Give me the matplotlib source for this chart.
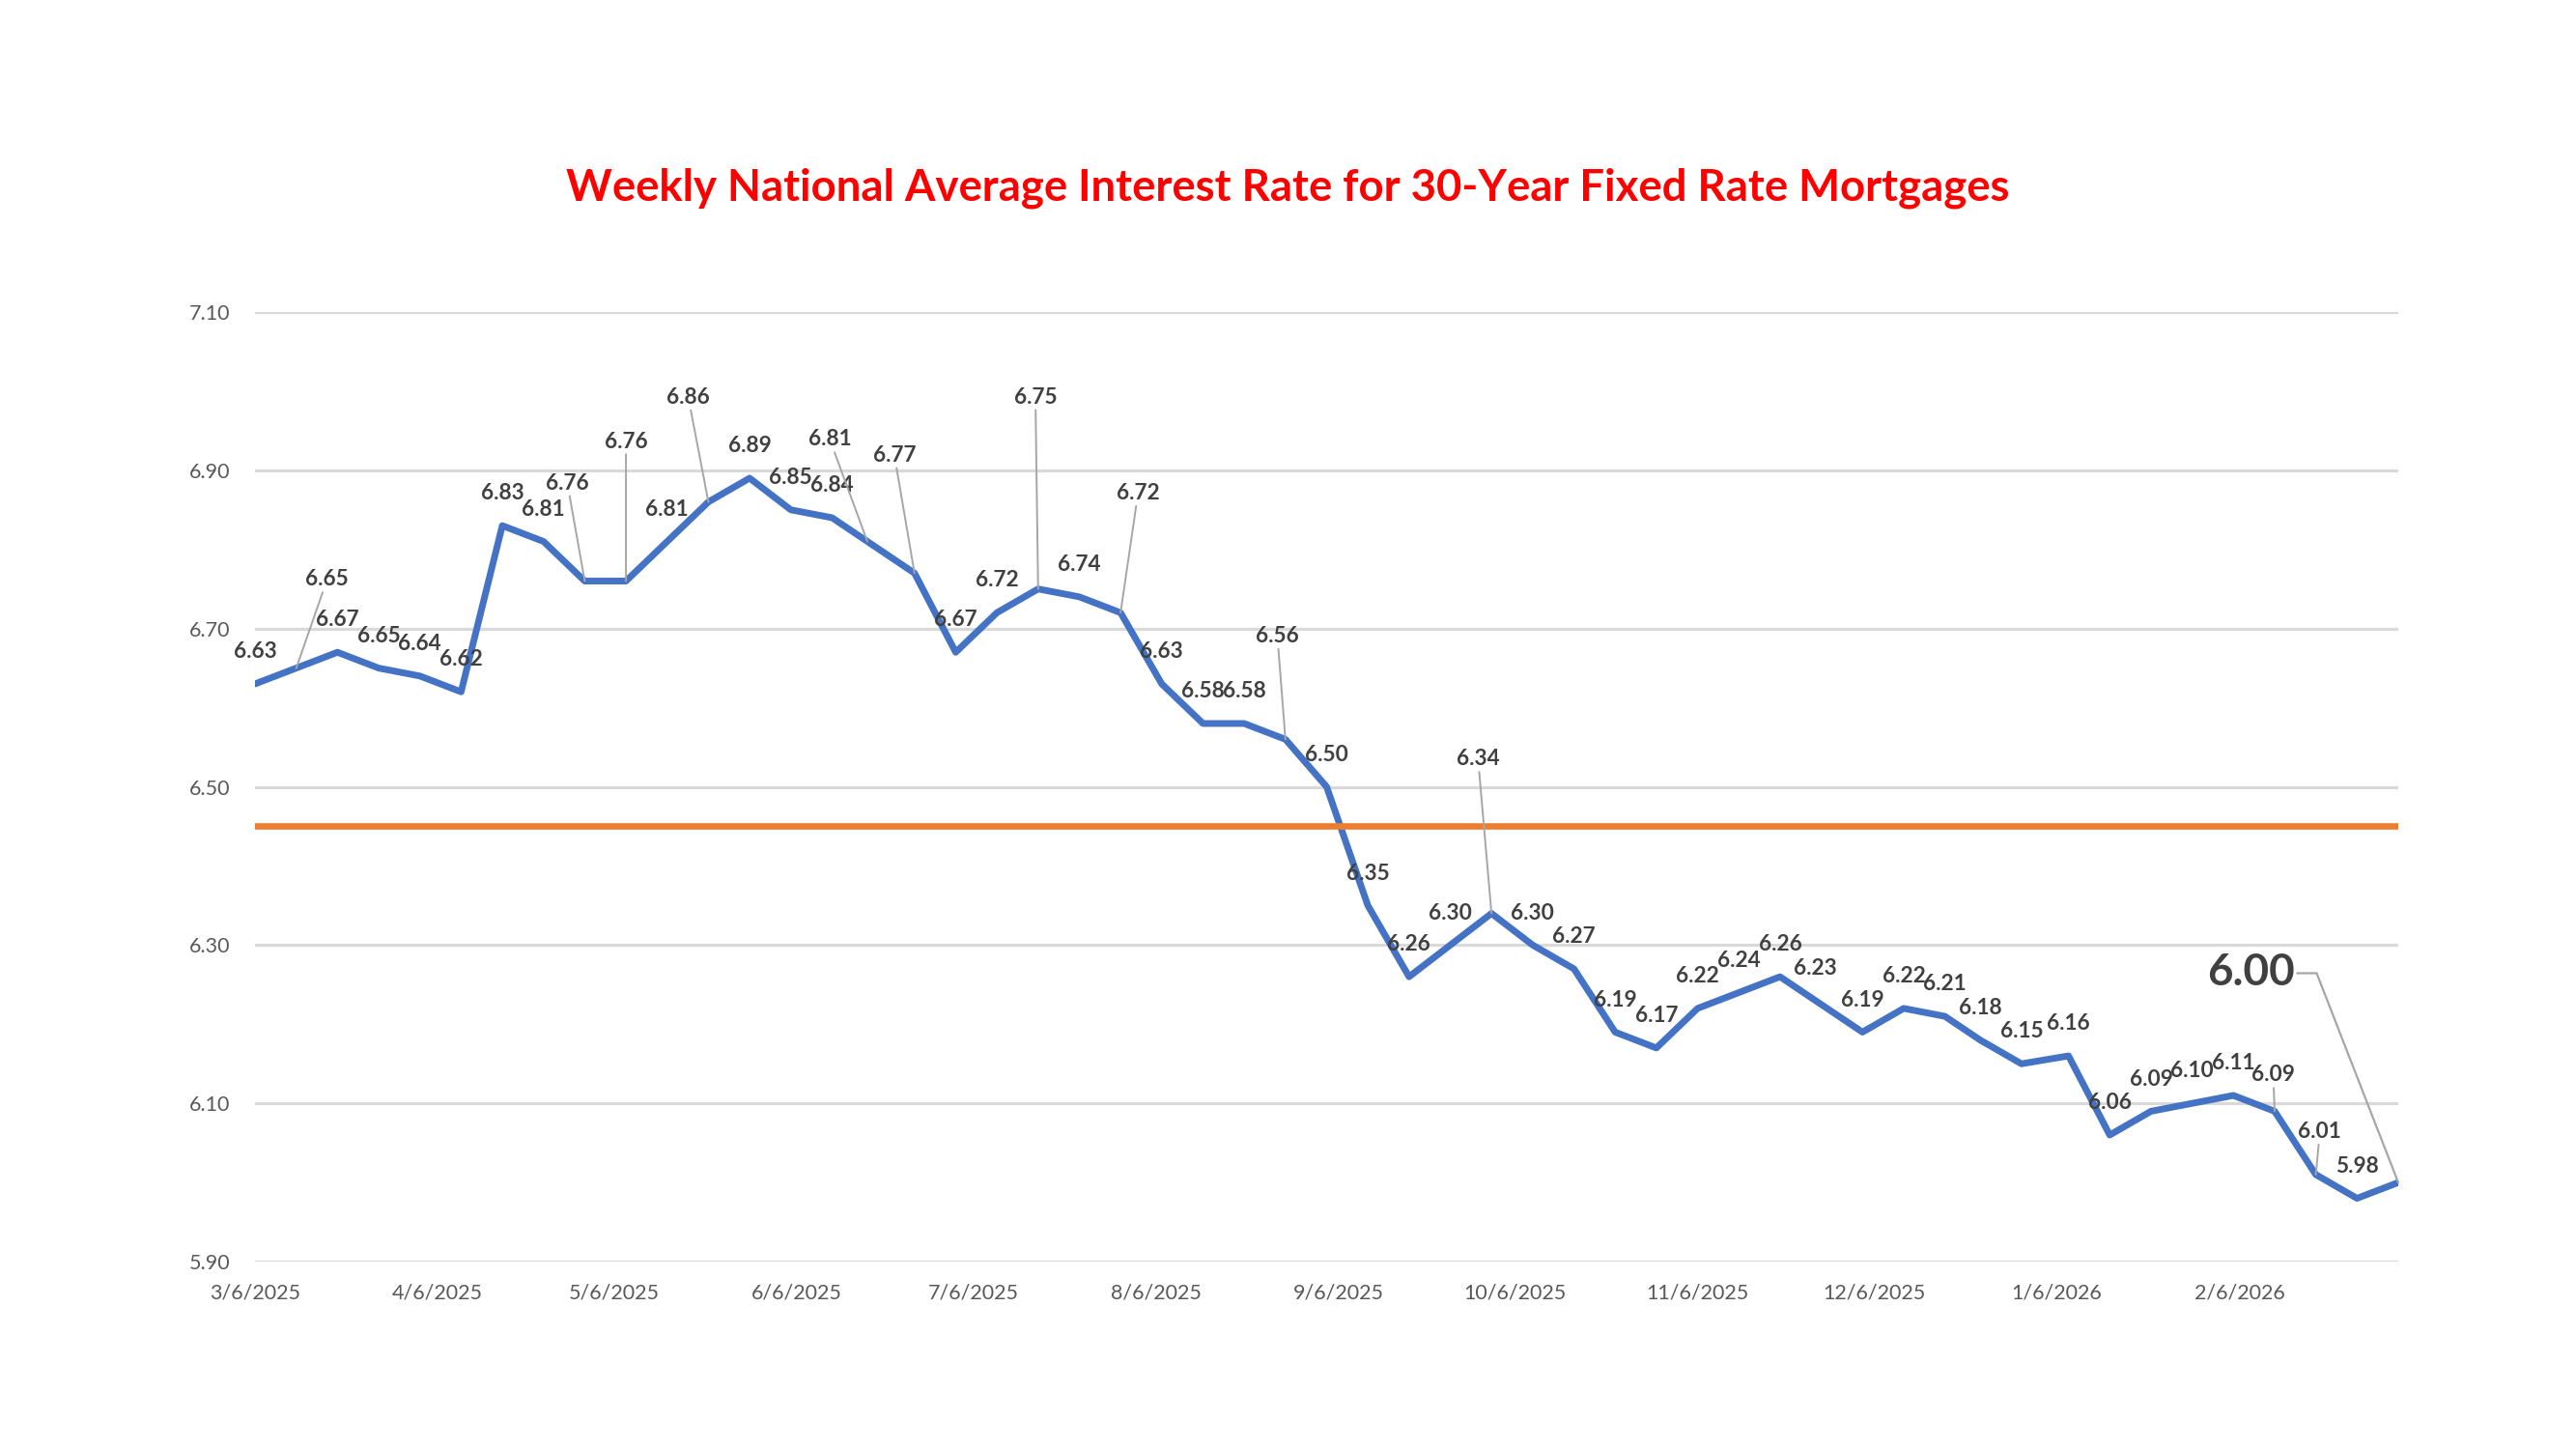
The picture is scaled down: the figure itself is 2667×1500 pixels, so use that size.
import matplotlib
matplotlib.use("Agg")
import matplotlib.pyplot as plt
import pandas as pd

plt.rcParams['font.family'] = ['Lato', 'DejaVu Sans']

# weekly 30-year fixed rate (Freddie Mac PMMS style), 3/6/2025 - 3/5/2026
dates = ['2025-03-06', '2025-03-13', '2025-03-20', '2025-03-27', '2025-04-03', '2025-04-10',
         '2025-04-17', '2025-04-24', '2025-05-01', '2025-05-08', '2025-05-15', '2025-05-22',
         '2025-05-29', '2025-06-05', '2025-06-12', '2025-06-18', '2025-06-26', '2025-07-03',
         '2025-07-10', '2025-07-17', '2025-07-24', '2025-07-31', '2025-08-07', '2025-08-14',
         '2025-08-21', '2025-08-28', '2025-09-04', '2025-09-11', '2025-09-18', '2025-09-25',
         '2025-10-02', '2025-10-09', '2025-10-16', '2025-10-23', '2025-10-30', '2025-11-06',
         '2025-11-13', '2025-11-20', '2025-11-26', '2025-12-04', '2025-12-11', '2025-12-18',
         '2025-12-24', '2025-12-31', '2026-01-08', '2026-01-15', '2026-01-22', '2026-01-29',
         '2026-02-05', '2026-02-12', '2026-02-19', '2026-02-26', '2026-03-05']
rates = [6.63, 6.65, 6.67, 6.65, 6.64, 6.62, 6.83, 6.81, 6.76, 6.76, 6.81, 6.86,
         6.89, 6.85, 6.84, 6.81, 6.77, 6.67, 6.72, 6.75, 6.74, 6.72, 6.63, 6.58,
         6.58, 6.56, 6.50, 6.35, 6.26, 6.30, 6.34, 6.30, 6.27, 6.19, 6.17, 6.22,
         6.24, 6.26, 6.23, 6.19, 6.22, 6.21, 6.18, 6.15, 6.16, 6.06, 6.09, 6.10,
         6.11, 6.09, 6.01, 5.98, 6.00]
avg_rate = 6.45

tick_dates = ['2025-03-06', '2025-04-06', '2025-05-06', '2025-06-06', '2025-07-06',
              '2025-08-06', '2025-09-06', '2025-10-06', '2025-11-06', '2025-12-06',
              '2026-01-06', '2026-02-06']
y_ticks = [5.90, 6.10, 6.30, 6.50, 6.70, 6.90, 7.10]

title = 'Weekly National Average Interest Rate for 30-Year Fixed Rate Mortgages'

# labels that were dragged away from the point (offset in points, drawn with a leader line)
moved_labels = {1: (23, 66), 8: (-13, 73), 9: (0, 104), 11: (-15, 78), 15: (-28, 76),
                16: (-15, 88), 19: (-2, 143), 21: (13, 89), 25: (-6, 77), 30: (-10, 115),
                49: (-1, 27), 50: (3, 32)}

x = pd.to_datetime(dates)
blue = '#4472C4'
orange = '#ED7D31'
label_col = '#404040'
lead_col = '#A6A6A6'
lab_size = 16.3

fig = plt.figure(figsize=(26.67, 15), dpi=100)
ax = fig.add_axes([0.099, 0.1293, 0.832, 0.6554])

ax.plot(x, rates, color=blue, lw=5, solid_joinstyle='round', solid_capstyle='round', zorder=2)
ax.plot([x[0], x[-1]], [avg_rate, avg_rate], color=orange, lw=4.8, zorder=3)

ax.set_xlim(x[0], x[-1])
ax.set_ylim(y_ticks[0], y_ticks[-1])
ax.set_yticks(y_ticks)
ax.set_yticklabels(['%.2f' % v for v in y_ticks])
tks = pd.to_datetime(tick_dates)
ax.set_xticks(tks)
ax.set_xticklabels(['%d/%d/%d' % (d.month, d.day, d.year) for d in tks])
ax.tick_params(axis='y', length=0, pad=18.5, labelsize=15.5, labelcolor='#595959')
ax.tick_params(axis='x', length=0, pad=16, labelsize=15.5, labelcolor='#595959')
ax.grid(axis='y', color='#D9D9D9', lw=2.3)
ax.set_axisbelow(True)
for s in ax.spines.values():
    s.set_visible(False)

last = len(rates) - 1
for i, (d, v) in enumerate(zip(x, rates)):
    if i == last:
        continue
    if i in moved_labels:
        ax.annotate('%.2f' % v, (d, v), xytext=moved_labels[i], textcoords='offset points',
                    ha='center', va='center', fontsize=lab_size, fontweight='bold', color=label_col,
                    arrowprops=dict(arrowstyle='-', color=lead_col, lw=1.4, shrinkA=0, shrinkB=0),
                    zorder=5)
    else:
        ax.annotate('%.2f' % v, (d, v), xytext=(0, 24), textcoords='offset points',
                    ha='center', va='center', fontsize=lab_size, fontweight='bold', color=label_col,
                    zorder=5)

# latest value, enlarged
ax.annotate('%.2f' % rates[last], (x[last], rates[last]), xytext=(-110, 156),
            textcoords='offset points', ha='center', va='center', fontsize=33,
            fontweight='bold', color=label_col,
            arrowprops=dict(arrowstyle='-', color=lead_col, lw=1.6, shrinkA=0, shrinkB=0,
                            relpos=(1, 0.5), connectionstyle='angle,angleA=0,angleB=-68.7,rad=0'),
            zorder=5)

fig.text(0.5, 0.870, title, ha='center', va='center', fontsize=32.8, fontweight='bold',
         color='#FF0000')

fig.savefig('out.png', dpi=100)
